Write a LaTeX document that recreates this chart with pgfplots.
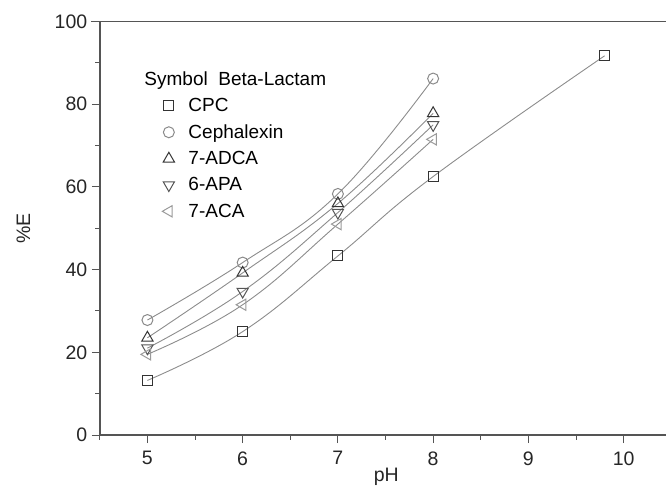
\documentclass[border=0pt]{standalone}
\usepackage{pgfplots}
\pgfplotsset{compat=1.18}
\usepackage{fontspec}
\setmainfont{Liberation Sans}
\definecolor{axgray}{HTML}{555555}
\definecolor{curve}{HTML}{8C8C8C}
\definecolor{mkdark}{HTML}{333333}
\definecolor{mkmid}{HTML}{555555}
\definecolor{mklight}{HTML}{8A8A8A}
\definecolor{mkvlight}{HTML}{9A9A9A}
\begin{document}
\begin{tikzpicture}[x=1pt,y=1pt]
\useasboundingbox (0,0) rectangle (666,490);
\begin{axis}[
  at={(99.8pt,55pt)}, anchor=south west,
  scale only axis, width=566.2pt, height=413.5pt,
  xmin=4.5, xmax=10.445, ymin=0, ymax=100,
  axis lines=left, axis line style={-, draw=axgray, line width=1.4pt},
  tick align=outside, tick style={draw=axgray, line width=1pt},
  major tick length=8pt, minor tick length=4.5pt,
  xtick={5,6,...,10}, ytick={0,20,...,100},
  minor x tick num=1, minor y tick num=1,
  extra x ticks={4.5}, extra x tick labels={},
  extra x tick style={major tick length=4.5pt},
  /pgf/number format/assume math mode=true,
  ticklabel style={font=\fontsize{19.5}{22}\selectfont, text=black!85},
  yticklabel style={xshift=-1pt},
  xticklabel style={yshift=-5pt},
  xlabel={pH}, ylabel={\%E},
  label style={font=\fontsize{19.5}{22}\selectfont, text=black!85},
  xlabel style={at={(axis description cs:0.506,0)}, anchor=north, yshift=-33pt, inner sep=0pt},
  ylabel style={at={(axis description cs:0,0.5)}, anchor=south, yshift=66pt},
  legend style={at={(0.103,0.889)}, anchor=north west, draw=none, fill=none,
    font=\fontsize{19}{22}\selectfont, row sep=7.5pt, inner sep=2pt,
    /tikz/every odd column/.append style={column sep=12pt}},
  legend cell align=left,
  clip=false,
]
\addlegendimage{empty legend}
\addlegendentry{\hspace*{-44pt}Symbol\ \ Beta-Lactam}

% CPC
\addplot[only marks, mark=square, mark size=5pt, mark options={draw=mkdark, line width=1pt}]
  coordinates {(5,13.2) (6,25.0) (7,43.3) (8,62.5) (9.8,91.7)};
\addlegendentry{CPC}
% Cephalexin
\addplot[only marks, mark=o, mark size=5.5pt, mark options={draw=mklight, line width=1pt}]
  coordinates {(5,27.8) (6,41.7) (7,58.3) (8,86.2)};
\addlegendentry{Cephalexin}
% 7-ADCA
\addplot[only marks, mark=triangle, mark size=6.5pt, mark options={draw=mkdark, line width=1pt}]
  coordinates {(5,23.5) (6,39.2) (7,56.0) (8,77.8)};
\addlegendentry{7-ADCA}
% 6-APA
\addplot[only marks, mark=triangle, mark size=6.5pt, mark options={draw=mkmid, line width=1pt, rotate=180}]
  coordinates {(5,21.0) (6,34.7) (7,53.8) (8,75.0)};
\addlegendentry{6-APA}
% 7-ACA
\addplot[only marks, mark=triangle, mark size=6.5pt, mark options={draw=mkvlight, line width=1pt, rotate=90}]
  coordinates {(5,19.5) (6,31.5) (7,51.0) (8,71.5)};
\addlegendentry{7-ACA}

\addplot[forget plot, smooth, tension=0.7, draw=curve, line width=0.9pt]
  coordinates {(5,13.2) (6,25.0) (7,43.3) (8,62.5) (9.8,91.7)};
\addplot[forget plot, smooth, tension=0.7, draw=curve, line width=0.9pt]
  coordinates {(5,27.8) (6,41.7) (7,58.3) (8,86.2)};
\addplot[forget plot, smooth, tension=0.7, draw=curve, line width=0.9pt]
  coordinates {(5,23.5) (6,39.2) (7,56.0) (8,77.8)};
\addplot[forget plot, smooth, tension=0.7, draw=curve, line width=0.9pt]
  coordinates {(5,21.0) (6,34.7) (7,53.8) (8,75.0)};
\addplot[forget plot, smooth, tension=0.7, draw=curve, line width=0.9pt]
  coordinates {(5,19.5) (6,31.5) (7,51.0) (8,71.5)};

\draw[axgray, line width=1.4pt] ([xshift=-9pt]rel axis cs:0,1) -- (rel axis cs:1,1);
\end{axis}
\end{tikzpicture}
\end{document}
